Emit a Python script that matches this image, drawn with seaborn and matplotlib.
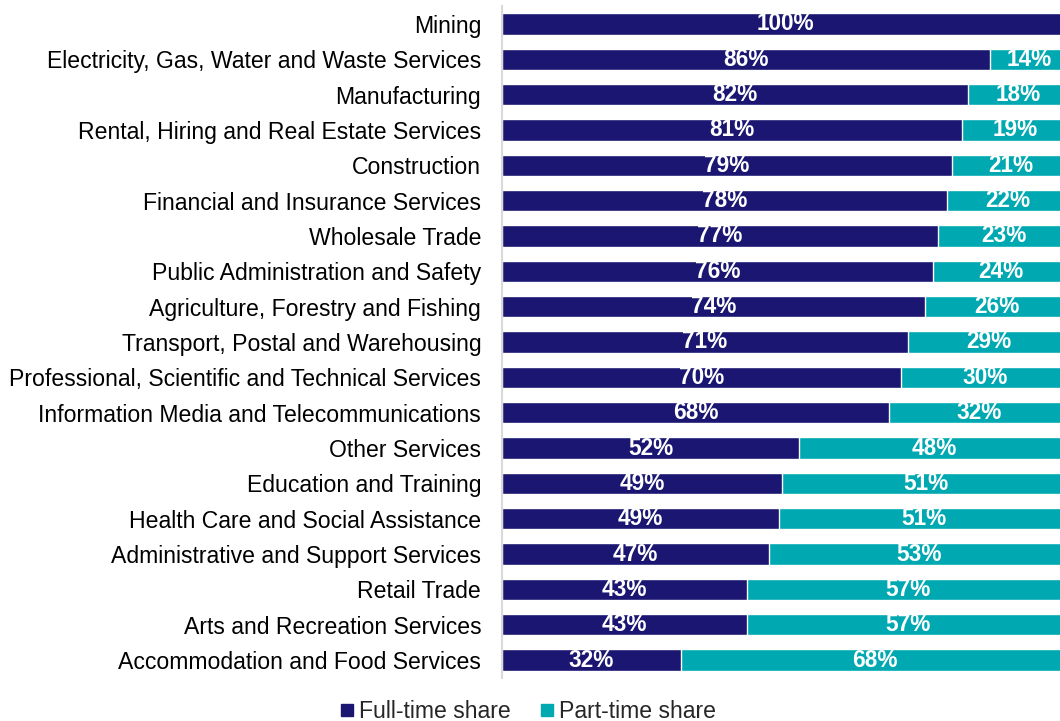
import pandas as pd
import matplotlib.pyplot as plt
import seaborn as sns
from matplotlib.lines import Line2D
from matplotlib import font_manager as fm

# industries, top to bottom
industries = [
    "Mining",
    "Electricity, Gas, Water and Waste Services",
    "Manufacturing",
    "Rental, Hiring and Real Estate Services",
    "Construction",
    "Financial and Insurance Services",
    "Wholesale Trade",
    "Public Administration and Safety",
    "Agriculture, Forestry and Fishing",
    "Transport, Postal and Warehousing",
    "Professional, Scientific and Technical Services",
    "Information Media and Telecommunications",
    "Other Services",
    "Education and Training",
    "Health Care and Social Assistance",
    "Administrative and Support Services",
    "Retail Trade",
    "Arts and Recreation Services",
    "Accommodation and Food Services",
]
# full-time share in %
full_time = [100.0, 86.1, 82.2, 81.1, 79.4, 78.4, 76.9, 76.0, 74.6, 71.6,
             70.4, 68.3, 52.4, 49.4, 48.9, 47.1, 43.2, 43.2, 31.6]
# printed labels
full_lbl = [100, 86, 82, 81, 79, 78, 77, 76, 74, 71, 70, 68, 52, 49, 49, 47, 43, 43, 32]
part_lbl = [0, 14, 18, 19, 21, 22, 23, 24, 26, 29, 30, 32, 48, 51, 51, 53, 57, 57, 68]

NAVY = "#1a1671"
TEAL = "#00a8b1"

df = pd.DataFrame({"industry": industries, "full": full_time})
df["total"] = 100.0
df["part"] = df["total"] - df["full"]

sns.set_style("white")
plt.rcParams["font.family"] = ["Liberation Sans", "DejaVu Sans"]

# pick the regular-width bold file (not the Narrow one)
bold_file = None
for f in fm.fontManager.ttflist:
    if "LiberationSans-Bold." in f.fname:
        bold_file = f.fname
        break
if bold_file:
    bold_fp = fm.FontProperties(fname=bold_file, size=16.3)
else:
    bold_fp = fm.FontProperties(family="Liberation Sans", weight="bold", size=16.3)

fig = plt.figure(figsize=(10.6, 7.21), dpi=100)
ax = fig.add_axes([502 / 1060, 1 - 677.7 / 721, 567 / 1060, (677.7 - 6.3) / 721])

# stacked: draw total in teal, full-time on top in navy
sns.barplot(data=df, x="total", y="industry", color=TEAL, width=0.6,
            saturation=1, ax=ax, orient="h")
sns.barplot(data=df, x="full", y="industry", color=NAVY, width=0.6,
            saturation=1, ax=ax, orient="h")

for i, row in df.iterrows():
    ax.text(row["full"] / 2, i, f"{full_lbl[i]}%", ha="center", va="center",
            color="white", fontproperties=bold_fp)
    if part_lbl[i] > 0:
        ax.text(row["full"] + row["part"] / 2, i, f"{part_lbl[i]}%",
                ha="center", va="center", color="white", fontproperties=bold_fp)

ax.set_xlim(0, 100)
ax.set_ylim(len(industries) - 0.5, -0.5)
ax.set_xlabel("")
ax.set_ylabel("")
ax.set_xticks([])
ax.tick_params(axis="y", length=0, pad=15, labelsize=16.6, labelcolor="#000000")
for s in ["top", "right", "bottom"]:
    ax.spines[s].set_visible(False)
ax.spines["left"].set_color("#d9d9d9")
ax.spines["left"].set_linewidth(1.5)

handles = [
    Line2D([0], [0], marker="s", linestyle="", color=NAVY, markersize=9),
    Line2D([0], [0], marker="s", linestyle="", color=TEAL, markersize=9),
]
fig.legend(handles, ["Full-time share", "Part-time share"], loc="center",
           bbox_to_anchor=(0.497, 0.0125), ncol=2, frameon=False,
           fontsize=16.6, handletextpad=0.1, columnspacing=1.2,
           handlelength=0.8)

fig.savefig("out.png", dpi=100)
